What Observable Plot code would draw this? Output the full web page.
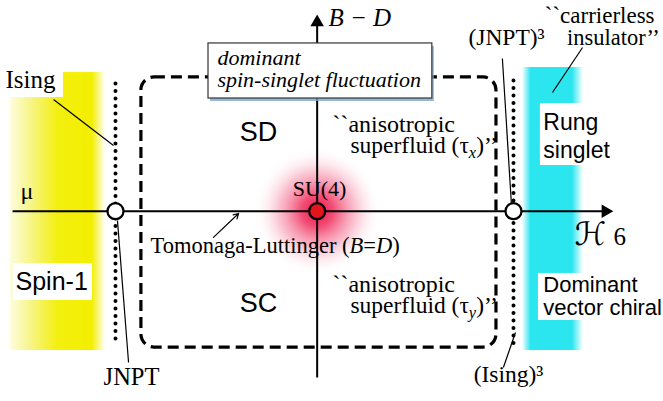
<!DOCTYPE html>
<html><head><meta charset="utf-8">
<script src="https://cdn.jsdelivr.net/npm/d3@7"></script>
<script src="https://cdn.jsdelivr.net/npm/@observablehq/plot@0.6"></script>
<style>
html,body{margin:0;padding:0;background:#fff;}
#chart svg{display:block;}
</style></head><body><div id="chart"></div>
<script>
// Schematic phase diagram. Coordinates: x = ℋ6 axis, y = B−D axis, SU(4) point at the origin.
const SERIF = "'Liberation Serif','Times New Roman',serif";
const SANS = "'Liberation Sans',Arial,sans-serif";
const SCRIPT = "'DejaVu Serif','DejaVu Sans',serif";

const xDomain = [-1.6, 1.75];
const yDomain = [-1.4, 1.55];

const yellowBand = [{x1: -1.55, x2: -1.069, y1: -1.025, y2: 1.020}];
const cyanBand = [{x1: 1.037, x2: 1.346, y1: -1.025, y2: 1.057}];
const su4Glow = [{x: 0, y: 0}];
const criticalPoints = [
  {name: "JNPT", x: -1.019, y: 0, fill: "white"},
  {name: "SU(4)", x: 0, y: 0, fill: "#e3141c"},
  {name: "(JNPT)3", x: 0.992, y: 0, fill: "white"}
];
const transitionLines = [
  {x1: -1.019, y1: 0.940, x2: -1.019, y2: -0.951},
  {x1: 0.992, y1: 0.962, x2: 0.992, y2: -0.988}
];
const crossoverRegion = [{x1: -0.888, x2: 0.906, y1: -1.003, y2: 0.984}];
const axisLines = [
  {x1: -1.539, y1: 0, x2: 1.457, y2: 0},
  {x1: 0, y1: -1.224, x2: 0, y2: 1.39}
];
const arrowHeads = [
  {x: 1.457, y: 0, rotate: 90},
  {x: 0, y: 1.39, rotate: 0}
];
const leaderLines = [
  {x1: -1.332, y1: 0.822, x2: -1.029, y2: 0.483},
  {x1: -1.009, y1: -0.068, x2: -0.953, y2: -1.113},
  {x1: 0.936, y1: 1.123, x2: 0.982, y2: 0.042},
  {x1: 1.341, y1: 1.204, x2: 1.189, y2: 0.873},
  {x1: 1.002, y1: -0.892, x2: 0.941, y2: -1.150}
];
const tlArrow = [{x1: -0.524, y1: -0.193, x2: -0.397, y2: -0.017}];
const labelBackgrounds = [
  {x1: -1.6, x2: -1.282, y1: 1.050, y2: 0.836},
  {x1: -1.534, x2: -1.135, y1: -0.385, y2: -0.657},
  {x1: 1.128, x2: 1.507, y1: 0.792, y2: 0.336},
  {x1: 1.118, x2: 1.75, y1: -0.458, y2: -0.804}
];
const noteBox = [{x1: -0.549, x2: 0.582, y1: 1.234, y2: 0.829}];
const noteShadow = [{x1: -0.539, x2: 0.592, y1: 1.212, y2: 0.807}];

const serifLabels = [
  {text: "Ising", x: -1.575, y: 0.903, size: 25, anchor: "start"},
  {text: "μ", x: -1.499, y: 0.093, size: 24, anchor: "start"},
  {text: "JNPT", x: -0.938, y: -1.275, size: 24.5, anchor: "middle"},
  {text: "SU(4)", x: 0.012, y: 0.115, size: 22, anchor: "middle"},
  {text: "Tomonaga-Luttinger (B=D)", x: -0.842, y: -0.311, size: 22.5, anchor: "start"},
  {text: "``anisotropic", x: 0.077, y: 0.581, size: 24, anchor: "start"},
  {text: "superfluid (τx)’’", x: 0.168, y: 0.427, size: 23.5, anchor: "start"},
  {text: "``anisotropic", x: 0.077, y: -0.597, size: 24, anchor: "start"},
  {text: "superfluid (τy)’’", x: 0.168, y: -0.751, size: 23.5, anchor: "start"},
  {text: "(JNPT)³", x: 0.957, y: 1.219, size: 23.5, anchor: "middle"},
  {text: "``carrierless", x: 1.150, y: 1.381, size: 23, anchor: "start"},
  {text: "insulator’’", x: 1.262, y: 1.219, size: 22.5, anchor: "start"},
  {text: "(Ising)³", x: 0.967, y: -1.260, size: 23.5, anchor: "middle"},
  {text: "6", x: 1.497, y: -0.252, size: 25, anchor: "start"}
];
const italicLabels = [
  {text: "B − D", x: 0.057, y: 1.359, size: 25, anchor: "start"},
  {text: "dominant", x: -0.504, y: 1.072, size: 22, anchor: "start"},
  {text: "spin-singlet fluctuation", x: -0.504, y: 0.917, size: 22, anchor: "start"}
];
const scriptLabels = [
  {text: "ℋ", x: 1.300, y: -0.252, size: 32, anchor: "start"}
];
const sansLabels = [
  {text: "Spin-1", x: -1.524, y: -0.583, size: 25, anchor: "start"},
  {text: "SD", x: -0.296, y: 0.513, size: 27, anchor: "middle"},
  {text: "SC", x: -0.296, y: -0.745, size: 27, anchor: "middle"},
  {text: "Rung", x: 1.143, y: 0.594, size: 23, anchor: "start"},
  {text: "singlet", x: 1.143, y: 0.395, size: 23, anchor: "start"},
  {text: "Dominant", x: 1.143, y: -0.598, size: 22, anchor: "start"},
  {text: "vector chiral", x: 1.143, y: -0.767, size: 22, anchor: "start"}
];

function textMarks(list, family, style = "normal") {
  return list.map(d => Plot.text([d], {
    x: "x", y: "y", text: "text",
    textAnchor: d.anchor, lineAnchor: "bottom",
    fontSize: d.size, fontFamily: family, fontStyle: style, fill: "black"
  }));
}
const rectOpts = {x1: "x1", x2: "x2", y1: "y1", y2: "y2"};

const svg = Plot.plot({
  width: 663, height: 401,
  margin: 0,
  x: {domain: xDomain, axis: null},
  y: {domain: yDomain, axis: null},
  style: {background: "white", overflow: "visible"},
  marks: [
    Plot.rect(yellowBand, {...rectOpts, fill: "url(#yellowGrad)"}),
    Plot.rect(cyanBand, {...rectOpts, fill: "url(#cyanGrad)"}),
    Plot.dot(su4Glow, {x: "x", y: "y", r: 64, fill: "url(#glowGrad)", stroke: "none"}),
    Plot.rect(labelBackgrounds, {...rectOpts, fill: "white"}),
    Plot.rect(crossoverRegion, {...rectOpts, fill: "none", stroke: "black", strokeWidth: 3.2, strokeDasharray: "11 6", rx: 13, ry: 13}),
    Plot.link(transitionLines, {x1: "x1", y1: "y1", x2: "x2", y2: "y2", stroke: "black", strokeWidth: 4, strokeDasharray: "0 7.5", strokeLinecap: "round"}),
    Plot.link(axisLines, {x1: "x1", y1: "y1", x2: "x2", y2: "y2", stroke: "black", strokeWidth: 2}),
    Plot.dot(arrowHeads, {x: "x", y: "y", r: 5, symbol: "triangle", rotate: "rotate", fill: "black", stroke: "none"}),
    Plot.link(leaderLines, {x1: "x1", y1: "y1", x2: "x2", y2: "y2", stroke: "black", strokeWidth: 1.2}),
    Plot.arrow(tlArrow, {x1: "x1", y1: "y1", x2: "x2", y2: "y2", stroke: "black", strokeWidth: 1.2, headLength: 7}),
    Plot.dot(criticalPoints, {x: "x", y: "y", r: 8, fill: d => d.fill, stroke: "black", strokeWidth: 2.2}),
    Plot.rect(noteShadow, {...rectOpts, fill: "#7fa6cf", fillOpacity: 0.8, ariaLabel: "shadow"}),
    Plot.rect(noteBox, {...rectOpts, fill: "white", stroke: "#333", strokeWidth: 1.2}),
    ...textMarks(serifLabels, SERIF),
    ...textMarks(italicLabels, SERIF, "italic"),
    ...textMarks(scriptLabels, SCRIPT, "italic"),
    ...textMarks(sansLabels, SANS)
  ]
});

// gradients / filters
const root = d3.select(svg);
const defs = root.insert("defs", ":first-child");
const yg = defs.append("linearGradient").attr("id", "yellowGrad").attr("x1", 0).attr("x2", 1).attr("y1", 0).attr("y2", 0);
[[0, "#fdfde0"], [0.25, "#f6f47a"], [0.5, "#f3ef10"], [0.86, "#f3ef00"], [1, "#ffffff"]]
  .forEach(([o, c]) => yg.append("stop").attr("offset", o).attr("stop-color", c));
const cg = defs.append("linearGradient").attr("id", "cyanGrad").attr("x1", 0).attr("x2", 1).attr("y1", 0).attr("y2", 0);
[[0, "#ffffff"], [0.14, "#2ce6ef"], [0.82, "#2ce6ef"], [1, "#ffffff"]]
  .forEach(([o, c]) => cg.append("stop").attr("offset", o).attr("stop-color", c));
const rg = defs.append("radialGradient").attr("id", "glowGrad");
[[0, "#ee1048", 1], [0.25, "#f0305e", 0.85], [0.6, "#f47898", 0.45], [1, "#ffffff", 0]]
  .forEach(([o, c, a]) => rg.append("stop").attr("offset", o).attr("stop-color", c).attr("stop-opacity", a));
const blur = defs.append("filter").attr("id", "softBlur").attr("x", "-10%").attr("y", "-30%").attr("width", "120%").attr("height", "160%");
blur.append("feGaussianBlur").attr("stdDeviation", 2.5);
root.selectAll("g[aria-label='shadow']").attr("filter", "url(#softBlur)");

// rich text: subscripts and italic letters
const rich = {
  "superfluid (τx)’’": [["superfluid (τ"], ["x", "sub"], [")’’", "up"]],
  "superfluid (τy)’’": [["superfluid (τ"], ["y", "sub"], [")’’", "up"]],
  "Tomonaga-Luttinger (B=D)": [["Tomonaga-Luttinger ("], ["B", "it"], ["="], ["D", "it"], [")"]]
};
root.selectAll("text").each(function () {
  const parts = rich[this.textContent];
  if (!parts) return;
  const t = d3.select(this).text(null);
  for (const [s, kind] of parts) {
    const sp = t.append("tspan").text(s);
    if (kind === "sub") sp.attr("font-style", "italic").attr("font-size", "0.7em").attr("dy", "0.3em");
    if (kind === "up") sp.attr("dy", "-0.21em");
    if (kind === "it") sp.attr("font-style", "italic");
  }
});

document.getElementById("chart").append(svg);
</script></body></html>
